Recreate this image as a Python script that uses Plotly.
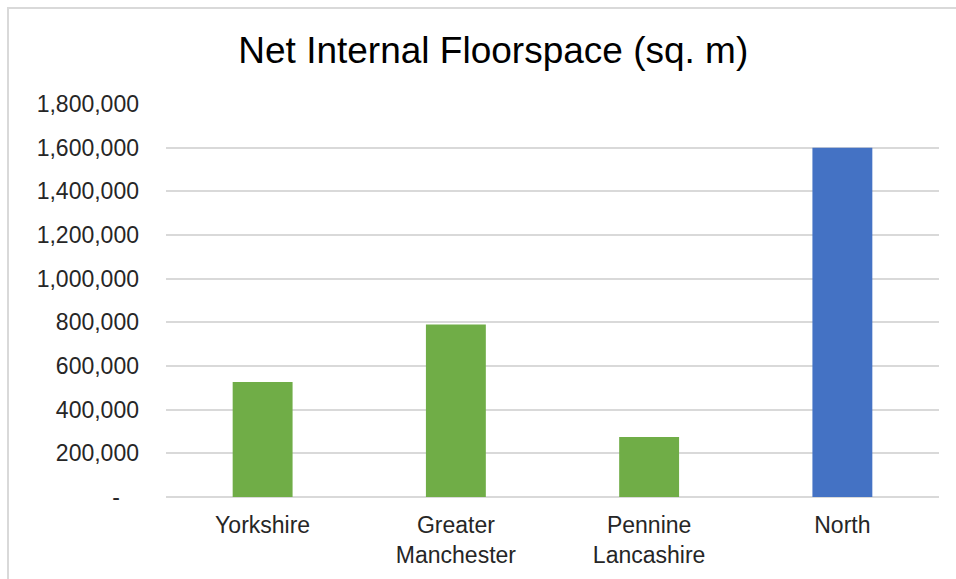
import plotly.graph_objects as go

# Net internal floorspace by area (sq. m)
regions = ["Yorkshire", "Greater<br>Manchester", "Pennine<br>Lancashire", "North"]
floorspace = [527000, 790000, 275000, 1600000]
bar_colors = ["#70AD47", "#70AD47", "#70AD47", "#4472C4"]

tick_values = [0, 200000, 400000, 600000, 800000, 1000000, 1200000, 1400000, 1600000, 1800000]
tick_labels = ["-\u00a0\u00a0\u00a0"] + [f"{v:,}" for v in tick_values[1:]]

font_family = "Liberation Sans, Arial, sans-serif"
grid_color = "#D9D9D9"

fig = go.Figure(
    go.Bar(
        x=regions,
        y=floorspace,
        marker=dict(color=bar_colors, line=dict(width=0)),
        hoverinfo="x+y",
    )
)

fig.update_layout(
    width=956,
    height=579,
    margin=dict(l=166, r=17, t=104, b=82),
    paper_bgcolor="white",
    plot_bgcolor="white",
    bargap=0.69,
    showlegend=False,
    font=dict(family=font_family, color="#262626"),
    title=dict(
        text="Net Internal Floorspace (sq. m)",
        font=dict(family=font_family, size=37, color="#000000"),
        x=0.516,
        xref="container",
        xanchor="center",
        y=1 - 50 / 579,
        yref="container",
        yanchor="middle",
    ),
    xaxis=dict(
        showgrid=False,
        showline=False,
        zeroline=False,
        ticks="",
        tickfont=dict(family=font_family, size=23, color="#262626"),
        ticklabelstandoff=12,
    ),
    yaxis=dict(
        range=[0, 1800000],
        tickvals=tick_values,
        ticktext=tick_labels,
        showgrid=True,
        gridcolor=grid_color,
        gridwidth=1.5,
        zeroline=True,
        zerolinecolor=grid_color,
        zerolinewidth=1.5,
        showline=False,
        ticks="",
        tickfont=dict(family=font_family, size=23, color="#262626"),
        ticklabelstandoff=26,
    ),
    shapes=[
        dict(
            type="rect",
            xref="paper",
            yref="paper",
            x0=(8 - 166) / 773,
            x1=(975 - 166) / 773,
            y0=(497 - 595) / 393,
            y1=(497 - 8) / 393,
            line=dict(color=grid_color, width=2),
            fillcolor="rgba(0,0,0,0)",
            layer="below",
        )
    ],
)

fig.write_html("out.html")
